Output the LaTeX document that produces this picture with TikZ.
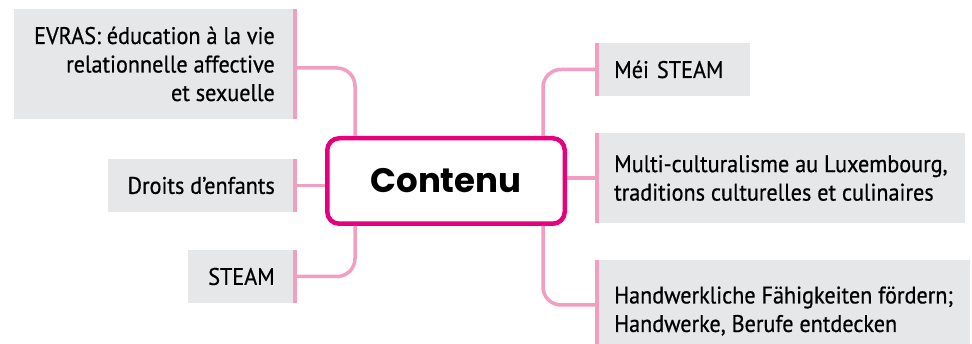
\documentclass[tikz,border=0pt]{standalone}
\usepackage{fontspec}
\setmainfont[FakeStretch=0.925,FakeBold=0.6]{PT Sans}
\newfontfamily\hubfont{Poppins}
\usetikzlibrary{positioning}

\definecolor{hubpink}{HTML}{E6007E}
\definecolor{linkpink}{HTML}{F19EC2}
\definecolor{boxgray}{HTML}{E6E7E8}

\begin{document}
\begin{tikzpicture}[x=1pt,y=1pt,
  topic/.style={fill=boxgray,inner ysep=0pt,minimum height=53pt,
    font=\fontsize{24}{28.5}\selectfont},
  lefttopic/.style={topic,anchor=east,inner xsep=20pt,align=right},
  righttopic/.style={topic,anchor=west,inner xsep=17pt,align=left},
  link/.style={draw=linkpink,line width=3.5pt,rounded corners=18pt},
  bar/.style={draw=linkpink,line width=4pt}]
\useasboundingbox (0,0) rectangle (972,344);
\clip (0,0) rectangle (972,344);
% centre
\node (hub) at (446,163) [draw=hubpink,fill=white,line width=4.5pt,rounded corners=12pt,
  minimum width=237.5pt,minimum height=85.5pt,font=\hubfont\bfseries\fontsize{34}{40}\selectfont] {Contenu};
% left side
\node (evras) at (295,280) [lefttopic,minimum height=110pt]
  {EVRAS: éducation à la vie\\relationnelle affective\\et sexuelle};
\node (droits) at (295,158.5) [lefttopic] {Droits d’enfants};
\node (steam) at (295,67.5) [lefttopic] {STEAM};
% right side
\node (mei) at (597,274.5) [righttopic,text width=119pt] {Méi STEAM};
\node (multi) at (597,166) [righttopic,minimum height=90pt]
  {Multi-culturalisme au Luxembourg,\\traditions culturelles et culinaires};
\node (hand) at (597,33) [righttopic,minimum height=102pt]
  {Handwerkliche Fähigkeiten fördern;\\Handwerke, Berufe entdecken};
% connectors
\draw[link] ([yshift=-4pt]evras.east) -| ([xshift=30pt]hub.north west);
\draw[link] (droits.east) -- (droits.east -| hub.west);
\draw[link] (steam.east) -| ([xshift=30pt]hub.south west);
\draw[link] (mei.west) -| ([xshift=-24pt]hub.north east);
\draw[link] (multi.west) -- (multi.west -| hub.east);
\draw[link] ([yshift=6pt]hand.west) -| ([xshift=-24pt]hub.south east);
% bars
\draw[bar] (evras.north east) -- (evras.south east);
\draw[bar] (droits.north east) -- (droits.south east);
\draw[bar] (steam.north east) -- (steam.south east);
\draw[bar] (mei.north west) -- (mei.south west);
\draw[bar] (multi.north west) -- (multi.south west);
\draw[bar] (hand.north west) -- (hand.south west);
\end{tikzpicture}
\end{document}
